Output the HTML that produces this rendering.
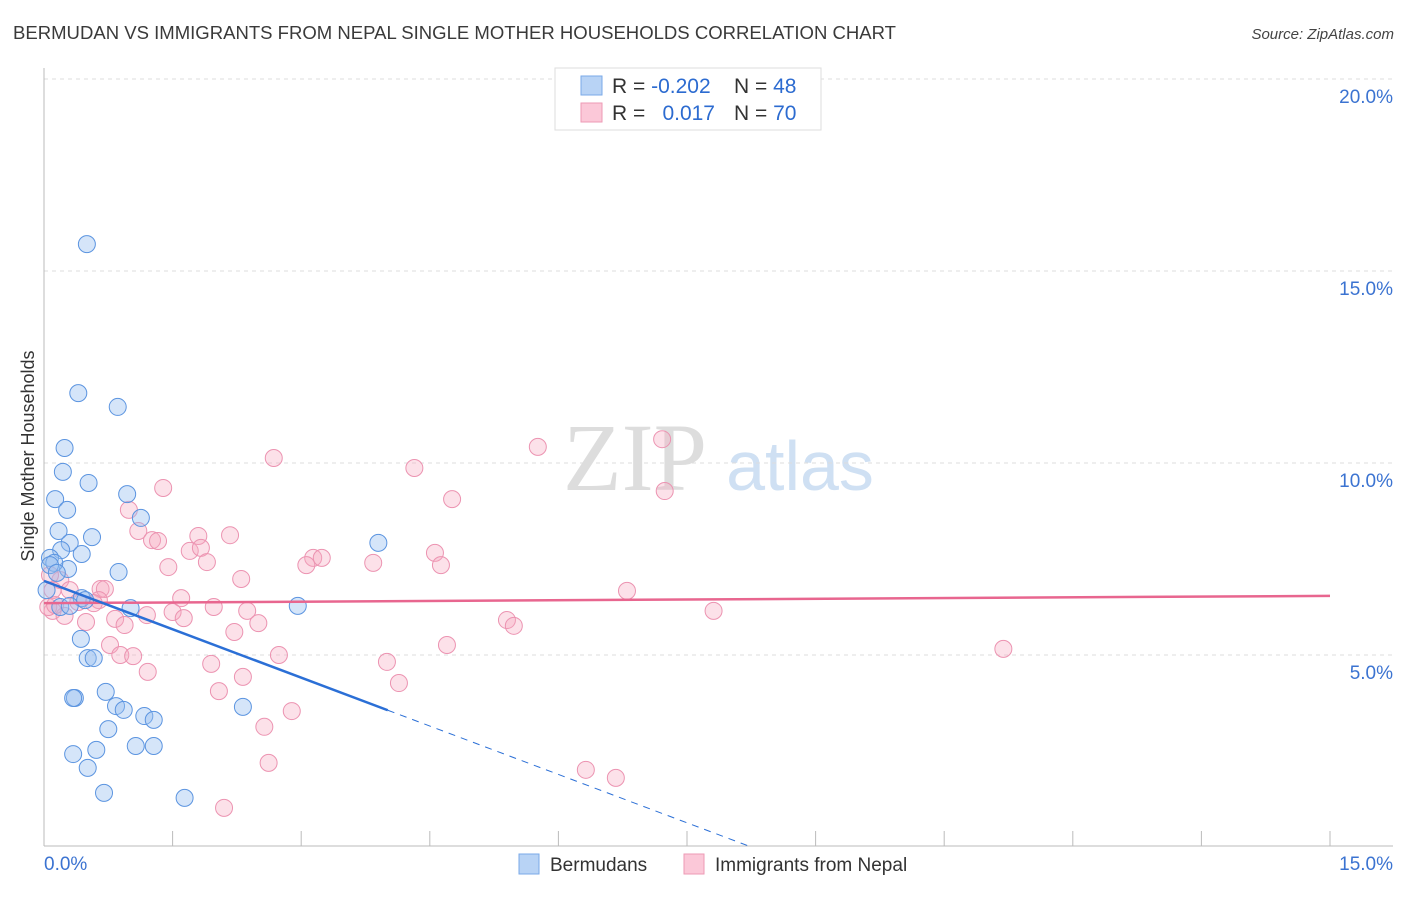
<!DOCTYPE html>
<html><head><meta charset="utf-8"><style>
body{margin:0;background:#fff;font-family:"Liberation Sans",sans-serif}
</style></head><body>
<svg width="1406" height="892" xmlns="http://www.w3.org/2000/svg" font-family="Liberation Sans, sans-serif">
<text x="13" y="39" font-size="18" fill="#3a3a3a" textLength="883" lengthAdjust="spacingAndGlyphs">BERMUDAN VS IMMIGRANTS FROM NEPAL SINGLE MOTHER HOUSEHOLDS CORRELATION CHART</text>
<text x="1394" y="39" font-size="15" fill="#444" font-style="italic" text-anchor="end">Source: ZipAtlas.com</text>
<g>
<text x="635" y="490" font-size="96" font-family="Liberation Serif, serif" fill="#ddd" text-anchor="middle">ZIP</text>
<text x="800" y="490" font-size="70" fill="#cfe0f3" text-anchor="middle">atlas</text>
</g>
<g id="grid"></g>
<g id="axes"></g>
<g id="marks"></g>
<text x="34" y="456" font-size="18" fill="#333" text-anchor="middle" transform="rotate(-90 34 456)">Single Mother Households</text>
<g>
<rect x="555" y="68" width="266" height="62" fill="#fff" stroke="#ddd"/>
<rect x="581" y="76" width="21" height="19" fill="#b8d3f5" stroke="#7aaae8"/>
<rect x="581" y="103" width="21" height="19" fill="#fbc8d8" stroke="#ee9ab5"/>
<text x="612" y="93" font-size="21" fill="#333">R = <tspan fill="#2c6bd0">-0.202</tspan></text>
<text x="734" y="93" font-size="21" fill="#333">N = <tspan fill="#2c6bd0">48</tspan></text>
<text x="612" y="120" font-size="21" fill="#333">R = </text>
<text x="715" y="120" font-size="21" fill="#2c6bd0" text-anchor="end">0.017</text>
<text x="734" y="120" font-size="21" fill="#333">N = <tspan fill="#2c6bd0">70</tspan></text>
</g>
<g>
<rect x="519" y="854" width="20" height="20" fill="#b8d3f5" stroke="#7aaae8"/>
<text x="550" y="871" font-size="19" fill="#333">Bermudans</text>
<rect x="684" y="854" width="20" height="20" fill="#fbc8d8" stroke="#ee9ab5"/>
<text x="715" y="871" font-size="19" fill="#333">Immigrants from Nepal</text>
</g>
</svg>
<script>
const blueX=[0.50,0.40,0.86,0.24,0.22,0.52,0.97,0.13,0.27,1.13,0.17,0.56,0.30,0.20,3.90,0.44,0.07,0.87,0.28,0.12,0.03,0.44,1.01,2.96,0.19,0.30,0.48,0.43,0.51,0.58,0.72,0.36,0.34,0.84,0.93,1.17,1.28,2.32,0.75,0.61,0.34,1.07,1.28,0.51,0.70,1.64,0.07,0.15];
const blueY=[15.70,11.82,11.46,10.39,9.77,9.48,9.19,9.06,8.78,8.57,8.23,8.07,7.92,7.73,7.92,7.63,7.53,7.16,7.24,7.40,6.69,6.48,6.22,6.28,6.25,6.28,6.43,5.42,4.92,4.92,4.04,3.88,3.88,3.67,3.57,3.41,3.31,3.65,3.07,2.53,2.42,2.63,2.63,2.06,1.41,1.28,7.34,7.14];
const pinkX=[5.76,7.21,4.32,4.76,7.24,2.68,1.39,0.99,1.10,1.26,1.33,1.80,2.17,1.70,1.83,1.90,1.45,2.30,3.14,3.24,3.06,3.84,4.56,4.63,0.19,0.10,0.66,0.71,0.30,0.64,1.60,1.98,2.37,6.80,7.81,5.40,5.48,0.10,0.40,0.58,0.24,0.49,0.83,0.94,1.50,1.63,2.22,2.50,1.20,0.77,0.89,1.04,4.70,2.74,1.95,4.00,1.21,2.32,2.04,4.14,2.89,2.57,2.62,6.32,6.67,2.10,11.19,0.05,0.13,0.07];
const pinkY=[10.42,10.62,9.87,9.06,9.27,10.13,9.35,8.78,8.23,7.99,7.97,8.10,8.12,7.71,7.79,7.42,7.29,6.98,7.53,7.53,7.34,7.40,7.66,7.34,6.95,6.69,6.72,6.72,6.69,6.43,6.48,6.25,6.15,6.67,6.15,5.91,5.76,6.15,6.38,6.35,6.02,5.86,5.94,5.78,6.12,5.96,5.60,5.83,6.04,5.26,5.00,4.97,5.26,5.00,4.77,4.82,4.56,4.43,4.06,4.27,3.54,3.13,2.19,2.01,1.80,1.02,5.16,6.25,6.30,7.08];
const yTicks=[5,10,15,20];
const yTickLabels=["5.0%","10.0%","15.0%","20.0%"];
const xTicks=[0,1.5,3,4.5,6,7.5,9,10.5,12,13.5,15];
const pinkTrend=[6.35,6.54];
const blueTrend=[6.93,-0.84];
const blueSolidEnd=4.01;
const blueDashEnd=8.25;

const NS="http://www.w3.org/2000/svg";
const sx=v=>44+v/15*1286;
const sy=v=>847-v*38.4;
function mk(tag,attrs,parent){const e=document.createElementNS(NS,tag);for(const k in attrs)e.setAttribute(k,attrs[k]);parent.appendChild(e);return e;}
const grid=document.getElementById('grid'),axes=document.getElementById('axes'),marks=document.getElementById('marks');
yTicks.forEach((t,i)=>{
 const l=mk('line',{x1:44,x2:1393,y1:sy(t),y2:sy(t),stroke:'#ddd','stroke-dasharray':'4,4'},grid);
 
 
 const tx=mk('text',{x:1393,y:sy(t)+24,'font-size':19,fill:'#3b73d1','text-anchor':'end'},axes);
 tx.textContent=yTickLabels[i];
 
 
});
const ax=mk('line',{x1:44,x2:44,y1:68,y2:846,stroke:'#bbb'},axes);


const xa=mk('line',{x1:44,x2:1393,y1:846,y2:846,stroke:'#bbb'},axes);


xTicks.forEach(t=>{const l=mk('line',{x1:sx(t),x2:sx(t),y1:831,y2:846,stroke:'#bbb'},axes);
 
 });
const x0=mk('text',{x:44,y:870,'font-size':19,fill:'#3b73d1'},axes);x0.textContent='0.0%';


const x1=mk('text',{x:1393,y:870,'font-size':19,fill:'#3b73d1','text-anchor':'end'},axes);x1.textContent='15.0%';



pinkX.forEach((x,i)=>{const c=mk('circle',{cx:sx(x),cy:sy(pinkY[i]),r:8.5,fill:'rgba(246,168,193,0.35)',stroke:'#ec93b1','stroke-width':1},marks);
 
 });
blueX.forEach((x,i)=>{const c=mk('circle',{cx:sx(x),cy:sy(blueY[i]),r:8.5,fill:'rgba(150,190,240,0.4)',stroke:'#5b94e0','stroke-width':1},marks);
 
 });
const pl=mk('line',{x1:sx(0),y1:sy(pinkTrend[0]),x2:sx(15),y2:sy(pinkTrend[1]),stroke:'#e8668f','stroke-width':2.5},marks);


const bf=v=>blueTrend[0]+blueTrend[1]*v;
const bl=mk('line',{x1:sx(0),y1:sy(bf(0)),x2:sx(blueSolidEnd),y2:sy(bf(blueSolidEnd)),stroke:'#2b6fd6','stroke-width':2.5},marks);


const bd=mk('line',{x1:sx(blueSolidEnd),y1:sy(bf(blueSolidEnd)),x2:sx(blueDashEnd),y2:sy(Math.max(0,bf(blueDashEnd))),stroke:'#2b6fd6','stroke-width':1,'stroke-dasharray':'7,6'},marks);


</script>
</body></html>
